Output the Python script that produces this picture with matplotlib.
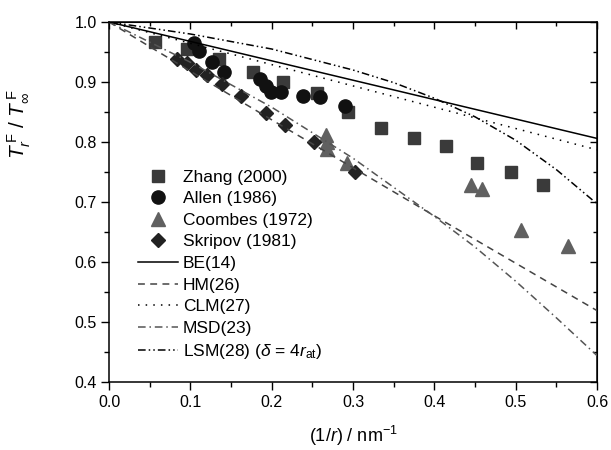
import matplotlib
matplotlib.use('Agg')
import matplotlib.pyplot as plt

### STYLE ###

plt.rcParams['font.family'] = ['Liberation Sans', 'DejaVu Sans']
plt.rcParams['mathtext.fontset'] = 'custom'
plt.rcParams['mathtext.rm'] = 'Liberation Sans'
plt.rcParams['mathtext.it'] = 'Liberation Sans:italic'

### DATA ###

# Experimental points:
zhang_x = [0.056, 0.096, 0.135, 0.177, 0.214, 0.256, 0.294, 0.334, 0.375, 0.414, 0.453, 0.494, 0.534]
zhang_y = [0.966, 0.955, 0.938, 0.916, 0.900, 0.881, 0.850, 0.823, 0.806, 0.793, 0.765, 0.750, 0.728]

allen_x = [0.105, 0.111, 0.127, 0.141, 0.186, 0.193, 0.199, 0.211, 0.238, 0.259, 0.290]
allen_y = [0.965, 0.952, 0.933, 0.917, 0.905, 0.893, 0.884, 0.884, 0.877, 0.875, 0.860]

coombes_x = [0.267, 0.268, 0.268, 0.293, 0.445, 0.459, 0.506, 0.564]
coombes_y = [0.812, 0.800, 0.789, 0.765, 0.728, 0.721, 0.653, 0.627]

skripov_x = [0.084, 0.096, 0.107, 0.121, 0.139, 0.162, 0.193, 0.216, 0.252, 0.303]
skripov_y = [0.938, 0.931, 0.920, 0.912, 0.897, 0.876, 0.849, 0.829, 0.800, 0.750]

# Model curves:
be_x = [0.0, 0.6]
be_y = [1.0, 0.806]

clm_x = [0.0, 0.6]
clm_y = [1.0, 0.787]

hm_x = [0.0, 0.1, 0.2, 0.3, 0.4, 0.5, 0.6]
hm_y = [1.0, 0.918, 0.837, 0.757, 0.677, 0.598, 0.519]

msd_x = [0.0, 0.1, 0.2, 0.3, 0.4, 0.45, 0.5, 0.55, 0.6]
msd_y = [1.0, 0.933, 0.858, 0.773, 0.676, 0.625, 0.568, 0.507, 0.444]

lsm_x = [0.0, 0.1, 0.2, 0.3, 0.35, 0.4, 0.45, 0.5, 0.55, 0.6]
lsm_y = [1.0, 0.980, 0.955, 0.920, 0.899, 0.873, 0.842, 0.803, 0.754, 0.697]

### PLOT ###

fig = plt.figure(figsize=(6.11, 4.5), dpi=100)
ax = fig.add_axes([0.1784, 0.1511, 0.7987, 0.8])

ax.plot(zhang_x, zhang_y, 's', color='#3a3a3a', ms=8.5, label='Zhang (2000)', zorder=2)
ax.plot(allen_x, allen_y, 'o', color='#111111', ms=9.5, label='Allen (1986)', zorder=2)
ax.plot(coombes_x, coombes_y, '^', color='#606060', ms=10, label='Coombes (1972)', zorder=2)
ax.plot(skripov_x, skripov_y, 'D', color='#222222', ms=7.5, label='Skripov (1981)', zorder=2)

ax.plot(be_x, be_y, '-', color='black', lw=1.1, label='BE(14)', zorder=3)
ax.plot(hm_x, hm_y, color='#444444', lw=1.1, dashes=(4.5, 3.5), label='HM(26)', zorder=3)
ax.plot(clm_x, clm_y, color='black', lw=1.1, dashes=(1, 4), label='CLM(27)', zorder=3)
ax.plot(msd_x, msd_y, color='#555555', lw=1.1, dashes=(5, 2.5, 1, 2.5), label='MSD(23)', zorder=3)
ax.plot(lsm_x, lsm_y, color='black', lw=1.1, dashes=(5, 2, 1, 2, 1, 2),
        label=r'LSM(28) ($\delta$ = 4$\mathit{r}_{\rm at}$)', zorder=3)

ax.set_xlim(0, 0.6)
ax.set_ylim(0.4, 1.0)
ax.set_xticks([0.0, 0.1, 0.2, 0.3, 0.4, 0.5, 0.6])
ax.set_yticks([0.4, 0.5, 0.6, 0.7, 0.8, 0.9, 1.0])
ax.set_xticks([0.05, 0.15, 0.25, 0.35, 0.45, 0.55], minor=True)
ax.set_yticks([0.45, 0.55, 0.65, 0.75, 0.85, 0.95], minor=True)
ax.tick_params(direction='out', labelsize=11.5, width=1, length=5.5)
ax.tick_params(which='minor', direction='out', width=1, length=3.5)
for spine in ax.spines.values():
  spine.set_linewidth(1.1)

# Mirror ticks pointing inward on top and right:
top = ax.secondary_xaxis('top')
top.set_xticks([0.0, 0.1, 0.2, 0.3, 0.4, 0.5, 0.6])
top.set_xticks([0.05, 0.15, 0.25, 0.35, 0.45, 0.55], minor=True)
top.tick_params(direction='in', labeltop=False, width=1, length=5)
top.tick_params(which='minor', direction='in', width=1, length=3)
right = ax.secondary_yaxis('right')
right.set_yticks([0.4, 0.5, 0.6, 0.7, 0.8, 0.9, 1.0])
right.set_yticks([0.45, 0.55, 0.65, 0.75, 0.85, 0.95], minor=True)
right.tick_params(direction='in', labelright=False, width=1, length=5)
right.tick_params(which='minor', direction='in', width=1, length=3)

ax.set_xlabel(r'(1/$\mathit{r}$) / nm$^{-1}$', fontsize=13)
ax.xaxis.set_label_coords(0.5, -0.115)
ax.set_ylabel(r'$\mathit{T}^{\,\rm F}_{\mathit{r}}$ / $\mathit{T}^{\,\rm F}_{\infty}$', fontsize=15)
ax.yaxis.set_label_coords(-0.155, 0.715)

ax.legend(loc='upper left', bbox_to_anchor=(0.059, 0.59), frameon=False, fontsize=12.5,
          borderpad=0, borderaxespad=0, labelspacing=0.37, handlelength=2.3,
          handletextpad=0.3, numpoints=1)

fig.savefig('out.png', dpi=100)
